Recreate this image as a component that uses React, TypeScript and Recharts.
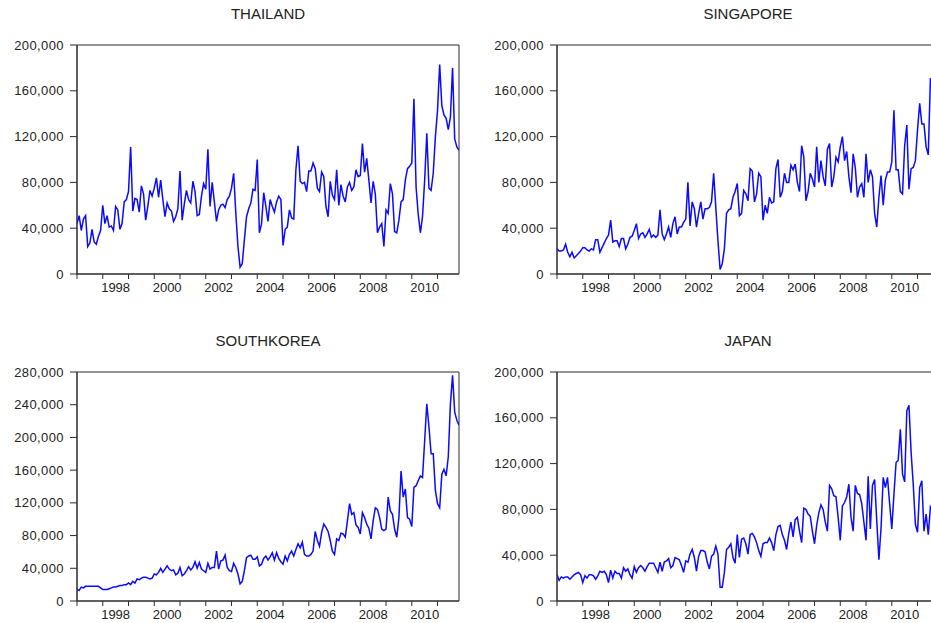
import { LineChart, Line, XAxis, YAxis, ReferenceArea } from "recharts"

// monthly observations, 1997M01 .. 2011M11, values in thousands
const START_YEAR = 1997
const YEARS = [1997, 1998, 1999, 2000, 2001, 2002, 2003, 2004, 2005, 2006, 2007, 2008, 2009, 2010, 2011]
const YEAR_LABELS = [1998, 2000, 2002, 2004, 2006, 2008, 2010]

const THAILAND = [
  44, 51, 38, 48, 51, 24, 27, 39, 28, 26, 33, 38,
  60, 44, 51, 41, 42, 38, 59, 56, 39, 44, 63, 65,
  72, 111, 55, 66, 65, 54, 77, 70, 47, 59, 73, 68,
  75, 84, 67, 82, 65, 50, 62, 57, 55, 46, 50, 57,
  90, 47, 61, 73, 65, 62, 81, 72, 51, 52, 68, 79,
  74, 109, 59, 80, 63, 46, 56, 60, 61, 58, 65, 68,
  75, 88, 53, 24, 6, 9, 30, 50, 57, 62, 74, 73,
  100, 36, 44, 71, 59, 46, 65, 59, 54, 63, 68, 65,
  25, 39, 41, 56, 49, 48, 91, 112, 81, 79, 80, 72,
  90, 90, 97, 92, 75, 72, 89, 85, 59, 50, 81, 69,
  65, 91, 60, 78, 68, 63, 76, 80, 73, 76, 91, 85,
  86, 114, 89, 101, 82, 62, 81, 70, 36, 41, 44, 24,
  56, 53, 79, 70, 37, 36, 47, 63, 65, 82, 92, 94,
  97, 153, 76, 52, 36, 50, 82, 123, 75, 73, 88, 120,
  143, 183, 147, 139, 136, 126, 137, 180, 118, 111, 108,
]

const SINGAPORE = [
  22, 20, 20, 21, 26, 19, 15, 19, 14, 16, 18, 20,
  23, 23, 21, 20, 22, 21, 30, 30, 19, 23, 27, 31,
  34, 47, 28, 29, 29, 24, 31, 31, 22, 26, 32, 33,
  38, 44, 31, 35, 36, 32, 35, 39, 32, 34, 32, 34,
  56, 35, 30, 35, 41, 32, 44, 50, 35, 41, 41, 45,
  48, 80, 42, 63, 57, 41, 53, 63, 48, 57, 57, 58,
  63, 88, 58, 29, 4, 9, 22, 53, 56, 57, 67, 72,
  79, 51, 53, 73, 70, 64, 92, 90, 63, 70, 88, 85,
  47, 60, 53, 67, 62, 63, 92, 100, 67, 72, 88, 80,
  80, 95, 91, 96, 80, 72, 112, 102, 64, 72, 88, 83,
  76, 111, 80, 99, 85, 77, 109, 114, 76, 85, 102, 98,
  111, 120, 99, 107, 85, 71, 105, 93, 67, 76, 79, 67,
  105, 80, 91, 85, 53, 41, 67, 86, 60, 82, 89, 89,
  98, 143, 91, 91, 72, 70, 112, 130, 74, 92, 93, 99,
  126, 149, 131, 131, 111, 104, 171, 160, 150, 140, 135,
]

const SOUTH_KOREA = [
  14, 13, 17, 16, 18, 18, 18, 18, 18, 18, 18, 16,
  14, 14, 14, 15, 16, 17, 17, 18, 19, 19, 20, 20,
  22, 20, 24, 22, 27, 26, 28, 29, 29, 28, 27, 28,
  33, 32, 35, 40, 35, 39, 43, 39, 37, 38, 32, 34,
  41, 31, 33, 37, 42, 38, 41, 48, 40, 47, 39, 37,
  35, 46, 39, 41, 41, 61, 39, 49, 50, 56, 41, 37,
  36, 46, 41, 33, 21, 24, 37, 53, 55, 56, 51, 51,
  54, 43, 45, 52, 55, 50, 54, 59, 50, 59, 52, 48,
  45, 55, 49, 57, 61, 55, 63, 70, 65, 72, 57, 55,
  55, 57, 61, 85, 74, 67, 84, 94, 90, 85, 74, 61,
  57, 76, 74, 83, 82, 78, 98, 119, 106, 108, 93, 90,
  82, 108, 102, 94, 89, 76, 98, 114, 112, 102, 88, 86,
  88, 127, 110, 106, 88, 78, 102, 159, 127, 137, 102, 100,
  91, 139, 141, 147, 153, 151, 196, 241, 213, 180, 180, 135,
  119, 114, 155, 161, 153, 176, 241, 276, 231, 221, 215,
]

const JAPAN = [
  23, 18, 21, 20, 21, 21, 19, 21, 23, 24, 25, 23,
  16, 22, 20, 23, 23, 22, 19, 22, 26, 25, 26, 23,
  16, 27, 20, 26, 24, 24, 20, 29, 26, 28, 23, 20,
  30, 25, 29, 31, 29, 26, 30, 33, 33, 33, 29, 25,
  34, 26, 34, 35, 37, 29, 31, 38, 37, 36, 31, 25,
  35, 34, 41, 45, 38, 26, 39, 44, 44, 43, 34, 28,
  39, 41, 48, 41, 12, 12, 25, 45, 47, 50, 38, 33,
  58, 38, 54, 55, 50, 41, 58, 59, 56, 51, 44, 39,
  50, 51, 51, 55, 51, 44, 58, 65, 66, 58, 53, 45,
  59, 69, 56, 71, 73, 61, 51, 81, 80, 76, 74, 61,
  50, 66, 77, 84, 80, 69, 61, 101, 98, 92, 91, 73,
  53, 83, 86, 91, 102, 73, 61, 101, 94, 93, 85, 69,
  53, 109, 63, 101, 106, 70, 36, 64, 108, 99, 108, 85,
  63, 93, 121, 123, 150, 111, 104, 166, 171, 130, 102, 67,
  60, 99, 105, 61, 76, 58, 82, 78, 72, 70, 68,
]

const AXIS_COLOR = "#2a2a2a"
const TEXT_COLOR = "#222"
const LINE_COLOR = "#0a0aff"
const FONT = "Arial, 'Liberation Sans', sans-serif"

const LAST = THAILAND.length - 1
// year starts get a tick mark, mid-year of even years carries the label
const X_TICKS = [
  ...YEARS.map(y => (y - START_YEAR) * 12),
  ...YEAR_LABELS.map(y => (y - START_YEAR) * 12 + 6),
].sort((a, b) => a - b)

const fmt = (v: number) => v.toLocaleString("en-US")

function YearTick({ x, y, payload }: any) {
  const v = payload.value as number
  if (v % 12 === 0) return <line x1={x} y1={y} x2={x} y2={y + 5} stroke={AXIS_COLOR} />
  return (
    <text x={x} y={y + 18} textAnchor="middle" fill={TEXT_COLOR} fontSize={13} fontFamily={FONT}>
      {START_YEAR + Math.floor(v / 12)}
    </text>
  )
}

function Panel({ title, values, yMax, left, top }: { title: string; values: number[]; yMax: number; left: number; top: number }) {
  const data = values.map((v, i) => ({ m: i, v: v * 1000 }))
  const yTicks: number[] = []
  for (let t = 0; t <= yMax; t += 40000) yTicks.push(t)

  return (
    <div style={{ position: "absolute", left, top, width: 470, height: 300 }}>
      <div style={{ position: "absolute", left: 77, width: 382, top: 5, lineHeight: "18px", textAlign: "center", fontSize: 15, color: TEXT_COLOR, fontFamily: FONT }}>
        {title}
      </div>
      <LineChart width={470} height={300} data={data} margin={{ top: 45, right: 11, bottom: 4, left: 7 }}>
        <XAxis dataKey="m" type="number" domain={[0, LAST]} ticks={X_TICKS} interval={0}
          tick={(p: any) => <YearTick {...p} />} tickLine={false} tickSize={0} tickMargin={0}
          height={22} stroke={AXIS_COLOR} allowDataOverflow />
        <YAxis domain={[0, yMax]} ticks={yTicks} interval={0} tickFormatter={fmt}
          tick={{ fill: TEXT_COLOR, fontSize: 13, fontFamily: FONT, letterSpacing: 0.4 }} tickSize={7} tickMargin={6}
          width={70} stroke={AXIS_COLOR} allowDataOverflow />
        {/* box frame around the plot area */}
        <ReferenceArea x1={0} x2={LAST} y1={0} y2={yMax} fill="none" stroke={AXIS_COLOR} strokeWidth={1} />
        <Line type="linear" dataKey="v" stroke={LINE_COLOR} strokeWidth={1.5} dot={false} isAnimationActive={false} />
      </LineChart>
    </div>
  )
}

export default function App() {
  return (
    <div style={{ position: "absolute", left: 0, top: 0, width: 931, height: 623, overflow: "hidden", background: "#fff" }}>
      <Panel title="THAILAND" values={THAILAND} yMax={200000} left={0} top={0} />
      <Panel title="SINGAPORE" values={SINGAPORE} yMax={200000} left={480} top={0} />
      <Panel title="SOUTHKOREA" values={SOUTH_KOREA} yMax={280000} left={0} top={327} />
      <Panel title="JAPAN" values={JAPAN} yMax={200000} left={480} top={327} />
    </div>
  )
}
